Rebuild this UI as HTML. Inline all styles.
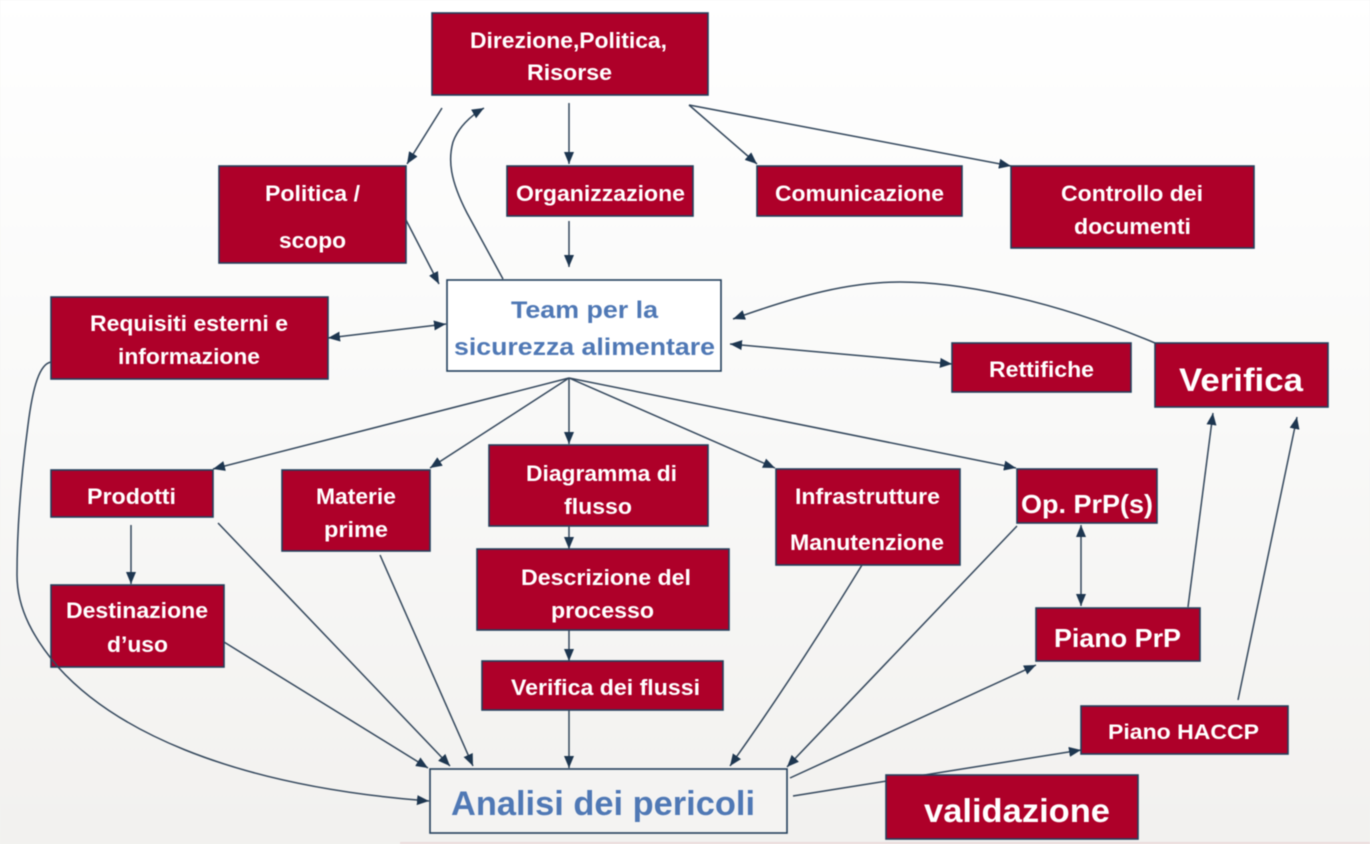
<!DOCTYPE html>
<html><head><meta charset="utf-8"><style>
html,body{margin:0;padding:0;width:1370px;height:844px;overflow:hidden;background:#f3f2f0}
svg{display:block;filter:blur(.45px)}
text{font-family:"Liberation Sans",sans-serif;font-weight:bold;fill:#fff;font-size:22px}
.b{fill:#4f78b5}
rect{fill:#ae0029;stroke:#24405c;stroke-width:1.6}
.w{fill:#fff}.a{fill:#f4f3f2}
.l path,.l line{fill:none;stroke:#33475c;stroke-width:1.5}
</style></head><body>
<svg width="1370" height="844" viewBox="0 0 1370 844" xmlns="http://www.w3.org/2000/svg">
<defs>
<linearGradient id="g" x1="0" y1="0" x2="0" y2="1"><stop offset="0" stop-color="#fff"/><stop offset=".5" stop-color="#f9f9f8"/><stop offset="1" stop-color="#f2f1ef"/></linearGradient>
<marker id="e" markerUnits="userSpaceOnUse" markerWidth="14" markerHeight="12" refX="12" refY="5" orient="auto-start-reverse"><path d="M0 0L12 5L0 10Z" fill="#1d3650"/></marker>
</defs>
<rect x="0" y="0" width="1370" height="844" style="fill:url(#g);stroke:none"/>
<rect x="400" y="842" width="970" height="2" style="fill:#ecdcdc;stroke:none"/>

<g class="l">
<line x1="793" y1="796" x2="1081" y2="750" marker-end="url(#e)"/>
</g>

<rect x="432" y="13" width="276" height="82"/>
<rect x="219" y="166" width="187" height="97"/>
<rect x="507" y="166" width="186" height="50"/>
<rect x="757" y="166" width="205" height="50"/>
<rect x="1011" y="166" width="243" height="82"/>
<rect class="w" x="447" y="280" width="274" height="91"/>
<rect x="51" y="297" width="277" height="82"/>
<rect x="952" y="343" width="179" height="49"/>
<rect x="1155" y="343" width="173" height="64"/>
<rect x="51" y="470" width="162" height="47"/>
<rect x="282" y="470" width="148" height="81"/>
<rect x="489" y="445" width="219" height="81"/>
<rect x="776" y="469" width="184" height="96"/>
<rect x="1017" y="469" width="140" height="54"/>
<rect x="51" y="585" width="173" height="82"/>
<rect x="477" y="549" width="252" height="81"/>
<rect x="482" y="661" width="241" height="49"/>
<rect x="1036" y="608" width="164" height="53"/>
<rect x="1081" y="706" width="207" height="48"/>
<rect class="a" x="430" y="769" width="357" height="64"/>
<rect x="886" y="775" width="252" height="64"/>

<g class="l">
<path d="M51 362C40 364 33 385 28 425C22 470 17 520 17 575C17 610 35 640 58 667C110 725 220 785 429 801" marker-end="url(#e)"/>
<line x1="442" y1="108" x2="407" y2="164" marker-end="url(#e)"/>
<path d="M503 279L467 213C450 180 448 160 453 142C458 128 470 116 484 108" marker-end="url(#e)"/>
<line x1="569" y1="103" x2="569" y2="164" marker-end="url(#e)"/>
<line x1="569" y1="221" x2="569" y2="267" marker-end="url(#e)"/>
<line x1="406" y1="220" x2="439" y2="284" marker-end="url(#e)"/>
<line x1="689" y1="105" x2="757" y2="164" marker-end="url(#e)"/>
<line x1="689" y1="105" x2="1011" y2="166" marker-end="url(#e)"/>
<line x1="328" y1="338" x2="446" y2="324" marker-start="url(#e)" marker-end="url(#e)"/>
<path d="M1155 343C1040 295 950 282 900 282C850 282 800 295 733 319" marker-end="url(#e)"/>
<line x1="730" y1="344" x2="952" y2="364" marker-start="url(#e)" marker-end="url(#e)"/>
<line x1="569" y1="378" x2="213" y2="469" marker-end="url(#e)"/>
<line x1="569" y1="378" x2="430" y2="468" marker-end="url(#e)"/>
<line x1="569" y1="378" x2="569" y2="444" marker-end="url(#e)"/>
<line x1="569" y1="378" x2="775" y2="468" marker-end="url(#e)"/>
<line x1="569" y1="378" x2="1016" y2="468" marker-end="url(#e)"/>
<line x1="569" y1="526" x2="569" y2="549" marker-end="url(#e)"/>
<line x1="569" y1="630" x2="569" y2="661" marker-end="url(#e)"/>
<line x1="569" y1="710" x2="569" y2="768" marker-end="url(#e)"/>
<line x1="131" y1="525" x2="131" y2="584" marker-end="url(#e)"/>
<line x1="218" y1="523" x2="450" y2="766" marker-end="url(#e)"/>
<line x1="380" y1="555" x2="473" y2="766" marker-end="url(#e)"/>
<line x1="224" y1="642" x2="428" y2="768" marker-end="url(#e)"/>
<path d="M862 565C810 650 770 710 730 766" marker-end="url(#e)"/>
<line x1="1017" y1="526" x2="787" y2="767" marker-end="url(#e)"/>
<line x1="790" y1="778" x2="1036" y2="665" marker-end="url(#e)"/>
<line x1="1081" y1="525" x2="1081" y2="606" marker-start="url(#e)" marker-end="url(#e)"/>
<line x1="1188" y1="607" x2="1213" y2="413" marker-end="url(#e)"/>
<line x1="1238" y1="700" x2="1297" y2="417" marker-end="url(#e)"/>
</g>

<text x="470" y="48" textLength="197" lengthAdjust="spacingAndGlyphs">Direzione,Politica,</text>
<text x="527" y="80" textLength="85" lengthAdjust="spacingAndGlyphs">Risorse</text>
<text x="265" y="201" textLength="95" lengthAdjust="spacingAndGlyphs">Politica /</text>
<text x="279" y="248" textLength="67" lengthAdjust="spacingAndGlyphs">scopo</text>
<text x="516" y="201" textLength="169" lengthAdjust="spacingAndGlyphs">Organizzazione</text>
<text x="775" y="201" textLength="169" lengthAdjust="spacingAndGlyphs">Comunicazione</text>
<text x="1061" y="201" textLength="142" lengthAdjust="spacingAndGlyphs">Controllo dei</text>
<text x="1074" y="234" textLength="117" lengthAdjust="spacingAndGlyphs">documenti</text>
<text class="b" style="font-size:24px" x="511" y="318" textLength="147" lengthAdjust="spacingAndGlyphs">Team per la</text>
<text class="b" style="font-size:24px" x="454" y="355" textLength="261" lengthAdjust="spacingAndGlyphs">sicurezza alimentare</text>
<text x="90" y="331" textLength="198" lengthAdjust="spacingAndGlyphs">Requisiti esterni e</text>
<text x="118" y="364" textLength="142" lengthAdjust="spacingAndGlyphs">informazione</text>
<text x="989" y="377" textLength="105" lengthAdjust="spacingAndGlyphs">Rettifiche</text>
<text style="font-size:32px" x="1179" y="391" textLength="124" lengthAdjust="spacingAndGlyphs">Verifica</text>
<text x="87" y="504" textLength="89" lengthAdjust="spacingAndGlyphs">Prodotti</text>
<text x="316" y="504" textLength="80" lengthAdjust="spacingAndGlyphs">Materie</text>
<text x="324" y="537" textLength="64" lengthAdjust="spacingAndGlyphs">prime</text>
<text x="526" y="481" textLength="151" lengthAdjust="spacingAndGlyphs">Diagramma di</text>
<text x="564" y="514" textLength="68" lengthAdjust="spacingAndGlyphs">flusso</text>
<text x="521" y="585" textLength="170" lengthAdjust="spacingAndGlyphs">Descrizione del</text>
<text x="551" y="618" textLength="103" lengthAdjust="spacingAndGlyphs">processo</text>
<text x="511" y="695" textLength="189" lengthAdjust="spacingAndGlyphs">Verifica dei flussi</text>
<text x="795" y="504" textLength="145" lengthAdjust="spacingAndGlyphs">Infrastrutture</text>
<text x="790" y="550" textLength="154" lengthAdjust="spacingAndGlyphs">Manutenzione</text>
<text style="font-size:26px" x="1021" y="513" textLength="132" lengthAdjust="spacingAndGlyphs">Op. PrP(s)</text>
<text x="66" y="618" textLength="142" lengthAdjust="spacingAndGlyphs">Destinazione</text>
<text x="107" y="652" textLength="61" lengthAdjust="spacingAndGlyphs">d’uso</text>
<text style="font-size:26px" x="1054" y="647" textLength="127" lengthAdjust="spacingAndGlyphs">Piano PrP</text>
<text style="font-size:21px" x="1108" y="739" textLength="151" lengthAdjust="spacingAndGlyphs">Piano HACCP</text>
<text class="b" style="font-size:34px" x="451" y="815" textLength="304" lengthAdjust="spacingAndGlyphs">Analisi dei pericoli</text>
<text style="font-size:33px" x="924" y="822" textLength="186" lengthAdjust="spacingAndGlyphs">validazione</text>
</svg>
</body></html>
